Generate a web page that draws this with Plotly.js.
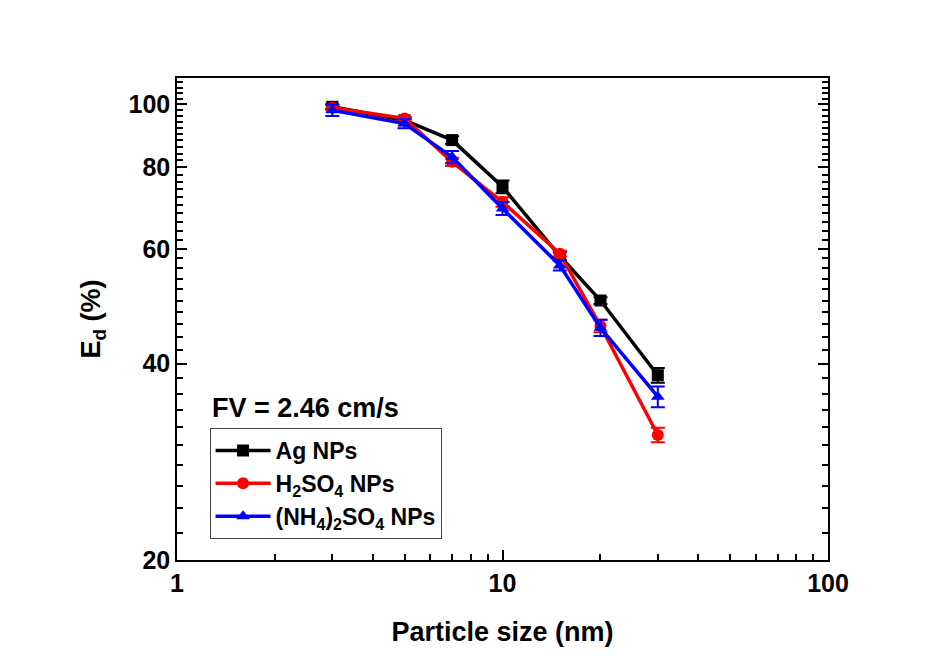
<!DOCTYPE html>
<html>
<head>
<meta charset="utf-8">
<script src="https://cdn.plot.ly/plotly-3.0.1.min.js"></script>
<style>html,body{margin:0;padding:0;background:#fff;}</style>
</head>
<body>
<div id="chart" style="width:948px;height:667px;"></div>
<script>
const sizes = [3, 5, 7, 10, 15, 20, 30];
const agValues = [99.1, 94.5, 88.1, 74.7, 58.5, 50.0, 38.4];
const agErrors = [0.8, 0.8, 1.2, 1.7, 0.8, 0.6, 1.0];
const h2so4Values = [98.8, 95.1, 81.6, 70.8, 59.0, 45.7, 31.1];
const h2so4Errors = [0.8, 0.6, 1.2, 1.2, 0.6, 1.0, 0.8];
const nh4Values = [97.9, 93.4, 83.0, 69.2, 56.6, 45.4, 35.6];
const nh4Errors = [2.0, 1.5, 1.8, 1.6, 1.0, 1.3, 1.3];
const seriesNames = ['Ag NPs', 'H<sub>2</sub>SO<sub>4</sub> NPs', '(NH<sub>4</sub>)<sub>2</sub>SO<sub>4</sub> NPs'];
const xTickVals = [1, 10, 100];
const yTickVals = [20, 40, 60, 80, 100];

const FONT = 'Arial, "Liberation Sans", sans-serif';

function series(name, y, err, color, symbol) {
  return {
    x: sizes, y: y, name: name, type: 'scatter', mode: 'lines+markers',
    line: {color: color, width: 3.5},
    marker: {color: color, symbol: symbol, size: 12},
    error_y: {type: 'data', array: err, visible: true, color: color, thickness: 2, width: 7}
  };
}

const data = [
  series(seriesNames[0], agValues, agErrors, '#000000', 'square'),
  series(seriesNames[1], h2so4Values, h2so4Errors, '#ff0000', 'circle'),
  series(seriesNames[2], nh4Values, nh4Errors, '#0000ff', 'triangle-up')
];

const xMinor = [];
for (let d = 1; d <= 10; d *= 10) for (let k = 2; k <= 9; k++) xMinor.push(k * d);
const yMinor = [];
for (let v = 22; v <= 110; v += 2) if (v % 20 !== 0) yMinor.push(v);

const layout = {
  width: 948, height: 667,
  paper_bgcolor: '#ffffff', plot_bgcolor: '#ffffff',
  margin: {l: 177, r: 120, t: 78, b: 107},
  font: {family: FONT, color: '#000', size: 25, weight: 700},
  showlegend: true,
  xaxis: {
    type: 'log', range: [0, 2],
    tickmode: 'array', tickvals: xTickVals, ticktext: xTickVals.map(String),
    ticks: 'inside', ticklen: 10, tickwidth: 1.5, tickcolor: '#000',
    minor: {tickmode: 'array', tickvals: xMinor, ticks: 'inside', ticklen: 6, tickwidth: 1.5, tickcolor: '#000', showgrid: false},
    showline: true, linecolor: '#000', linewidth: 1.5, mirror: true,
    showgrid: false, zeroline: false,
    tickfont: {family: FONT, size: 25, weight: 700},
    title: {text: 'Particle size (nm)', font: {family: FONT, size: 27, weight: 700}, standoff: 26}
  },
  yaxis: {
    type: 'log', range: [Math.log10(20), Math.log10(109.7)],
    tickmode: 'array', tickvals: yTickVals, ticktext: yTickVals.map(String),
    ticks: 'inside', ticklen: 10, tickwidth: 1.5, tickcolor: '#000',
    minor: {tickmode: 'array', tickvals: yMinor, ticks: 'inside', ticklen: 6, tickwidth: 1.5, tickcolor: '#000', showgrid: false},
    showline: true, linecolor: '#000', linewidth: 1.5, mirror: 'allticks',
    showgrid: false, zeroline: false,
    tickfont: {family: FONT, size: 25, weight: 700},
    title: {text: 'E<sub>d</sub> (%)', font: {family: FONT, size: 27, weight: 700}, standoff: 20}
  },
  legend: {
    x: 0.05, y: 0.274, xanchor: 'left', yanchor: 'top',
    bgcolor: '#ffffff', bordercolor: '#444', borderwidth: 1,
    font: {family: FONT, size: 23, weight: 700},
    tracegroupgap: 0, itemwidth: 55
  },
  annotations: [{
    xref: 'paper', yref: 'paper', x: 0.05, y: 0.315, xanchor: 'left', yanchor: 'middle',
    text: 'FV = 2.46 cm/s', showarrow: false,
    font: {family: FONT, size: 27, weight: 700, color: '#000'}
  }]
};

Plotly.newPlot('chart', data, layout, {displayModeBar: false});
</script>
</body>
</html>
